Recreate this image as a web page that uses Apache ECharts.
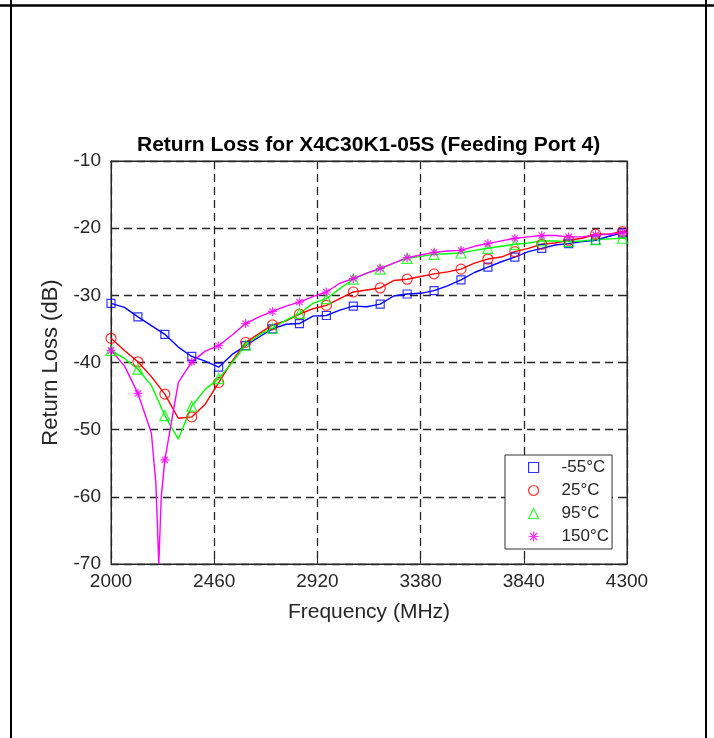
<!DOCTYPE html>
<html><head><meta charset="utf-8">
<script src="https://cdn.jsdelivr.net/npm/echarts@6/dist/echarts.min.js"></script>
<style>html,body{margin:0;padding:0;background:#fff}#c{width:714px;height:738px}</style>
</head><body><div id="c"></div>
<script>
const freqs = [2000,2060,2120,2180,2240,2300,2360,2420,2480,2540,2600,2660,2720,2780,2840,2900,2960,3020,3080,3140,3200,3260,3320,3380,3440,3500,3560,3620,3680,3740,3800,3860,3920,3980,4040,4100,4160,4220,4280,4300];
const rlMinus55 = [-31.2,-31.8,-33.2,-34.5,-35.8,-37.7,-39.1,-39.8,-40.7,-38.8,-37.5,-36.2,-35.0,-34.3,-34.2,-33.1,-33.0,-32.2,-31.6,-31.7,-31.3,-30.1,-29.8,-29.7,-29.3,-28.6,-27.7,-26.6,-25.8,-25.0,-24.3,-23.5,-23.0,-22.5,-22.3,-22.0,-21.8,-21.2,-20.7,-20.6];
const rl25 = [-36.4,-38.2,-39.9,-42.1,-44.7,-48.3,-48.1,-46.2,-43.0,-39.8,-37.0,-35.7,-34.4,-33.8,-32.8,-32.0,-31.5,-30.5,-29.5,-29.2,-28.9,-27.8,-27.6,-27.2,-26.8,-26.5,-26.1,-25.2,-24.6,-24.3,-23.5,-23.0,-22.4,-22.2,-21.8,-21.5,-20.9,-20.9,-20.5,-20.4];
const rl95 = [-38.2,-39.4,-41.0,-43.4,-47.9,-51.4,-46.5,-44.0,-42.4,-40.0,-37.4,-35.9,-34.9,-33.7,-32.7,-31.2,-30.5,-29.0,-27.6,-26.7,-26.1,-25.2,-24.5,-24.2,-23.9,-23.8,-23.7,-23.3,-23.0,-22.7,-22.4,-22.2,-21.9,-21.9,-22.0,-21.9,-21.7,-21.6,-21.5,-21.5];
const rl150 = [-38.2,-40.5,-44.6,-50.5,-54.5,-43.0,-39.9,-38.3,-37.5,-35.9,-34.2,-33.2,-32.4,-31.6,-31.0,-30.2,-29.5,-28.2,-27.5,-26.7,-26.0,-25.2,-24.4,-24.0,-23.6,-23.4,-23.3,-22.7,-22.3,-21.9,-21.5,-21.3,-21.1,-21.1,-21.3,-21.3,-21.0,-20.9,-20.7,-20.6];
const dipFreqs150 = [2200, 2213, 2224];
const dipVals150 = [-58, -70, -60];
const seriesNames = ['-55°C', '25°C', '95°C', '150°C'];
const xTicks = [2000, 2460, 2920, 3380, 3840, 4300];
const yTicks = [-70, -60, -50, -40, -30, -20, -10];

const FONT = "'Liberation Sans', Arial, Helvetica, sans-serif";
const colors = ['#0000ff', '#ff0000', '#00ff00', '#ff00ff'];
const symbols = ['rect', 'circle', 'triangle', 'path://M5 0V10M0 5H10M1.5 1.5L8.5 8.5M1.5 8.5L8.5 1.5'];
const symbolSizes = [8, 10, 10, 9];

function pairs(fs, vs) { return fs.map((f, i) => [f, vs[i]]); }
function markerPts(fs, vs) { return pairs(fs, vs).filter((p, i) => i % 2 === 0 && p[0] <= 4280); }

const lineData = [
  pairs(freqs, rlMinus55),
  pairs(freqs, rl25),
  pairs(freqs, rl95),
  pairs(freqs, rl150).concat(pairs(dipFreqs150, dipVals150)).sort((a, b) => a[0] - b[0])
];
const markData = [
  markerPts(freqs, rlMinus55),
  markerPts(freqs, rl25),
  markerPts(freqs, rl95),
  markerPts(freqs, rl150)
];

const series = [];
seriesNames.forEach((n, k) => {
  series.push({
    type: 'line', name: n + ' line', data: lineData[k], symbol: 'none', showSymbol: false,
    lineStyle: { color: colors[k], width: 1.4 }, itemStyle: { color: colors[k] },
    silent: true, z: 2, clip: true
  });
});
seriesNames.forEach((n, k) => {
  series.push({
    type: 'scatter', name: n, data: markData[k], symbol: symbols[k], symbolSize: symbolSizes[k],
    itemStyle: { color: 'rgba(0,0,0,0)', borderColor: colors[k], borderWidth: 1.2 },
    z: 3
  });
});

const chart = echarts.init(document.getElementById('c'), null, { renderer: 'canvas' });
chart.setOption({
  animation: false,
  backgroundColor: '#fff',
  textStyle: { fontFamily: FONT },
  title: {
    text: 'Return Loss for X4C30K1-05S (Feeding Port 4)',
    left: 137, top: 135, padding: 0,
    textStyle: { fontSize: 21, fontWeight: 'bold', color: '#000', fontFamily: FONT }
  },
  grid: { left: 111, top: 161, width: 516, height: 403, show: true, borderColor: '#262626', borderWidth: 1, backgroundColor: 'rgba(0,0,0,0)' },
  legend: {
    orient: 'vertical', left: 505, top: 455,
    data: seriesNames,
    itemWidth: 10, itemHeight: 10, itemGap: 6,
    padding: [4, 3, 4, 23],
    backgroundColor: '#fff', borderColor: '#333', borderWidth: 1, borderRadius: 0,
    textStyle: { fontSize: 17, color: '#262626', fontFamily: FONT, padding: [0, 0, 0, 18] },
    itemStyle: { borderWidth: 1.2 },
    selectedMode: false
  },
  xAxis: [{
    type: 'value', min: xTicks[0], max: xTicks[xTicks.length - 1], interval: xTicks[1] - xTicks[0],
    axisLine: { show: true, lineStyle: { color: '#262626', width: 1 } },
    axisTick: { show: true, inside: true, length: 5, lineStyle: { color: '#262626' } },
    axisLabel: { fontSize: 19, color: '#262626', margin: 8, fontFamily: FONT, formatter: v => String(v) },
    splitLine: { show: true, lineStyle: { type: [8, 5], color: '#262626', width: 1.3 } },
    name: 'Frequency (MHz)', nameLocation: 'middle', nameGap: 38,
    nameTextStyle: { fontSize: 21, color: '#262626', fontFamily: FONT }
  }, {
    type: 'value', position: 'top', min: xTicks[0], max: xTicks[xTicks.length - 1], interval: xTicks[1] - xTicks[0],
    axisLine: { show: true, lineStyle: { color: '#262626' } },
    axisTick: { show: true, inside: true, length: 5, lineStyle: { color: '#262626' } },
    axisLabel: { show: false }, splitLine: { show: false }
  }],
  yAxis: [{
    type: 'value', min: yTicks[0], max: yTicks[yTicks.length - 1], interval: 10,
    axisLine: { show: true, lineStyle: { color: '#262626', width: 1 } },
    axisTick: { show: true, inside: true, length: 5, lineStyle: { color: '#262626' } },
    axisLabel: { fontSize: 19, color: '#262626', margin: 10, fontFamily: FONT, formatter: v => String(v) },
    splitLine: { show: true, lineStyle: { type: [8, 5], color: '#262626', width: 1.3 } },
    name: 'Return Loss (dB)', nameLocation: 'middle', nameGap: 49, nameRotate: 90,
    nameTextStyle: { fontSize: 22, color: '#262626', fontFamily: FONT }
  }, {
    type: 'value', position: 'right', min: yTicks[0], max: yTicks[yTicks.length - 1], interval: 10,
    axisLine: { show: true, lineStyle: { color: '#262626' } },
    axisTick: { show: true, inside: true, length: 5, lineStyle: { color: '#262626' } },
    axisLabel: { show: false }, splitLine: { show: false }
  }],
  graphic: [
    { type: 'line', shape: { x1: 0, y1: 5.5, x2: 714, y2: 5.5 }, style: { stroke: '#000', lineWidth: 2.5 }, silent: true },
    { type: 'line', shape: { x1: 11, y1: 0, x2: 11, y2: 738 }, style: { stroke: '#000', lineWidth: 2 }, silent: true },
    { type: 'line', shape: { x1: 706, y1: 0, x2: 706, y2: 738 }, style: { stroke: '#000', lineWidth: 2 }, silent: true }
  ],
  series: series
});
</script>
</body></html>
